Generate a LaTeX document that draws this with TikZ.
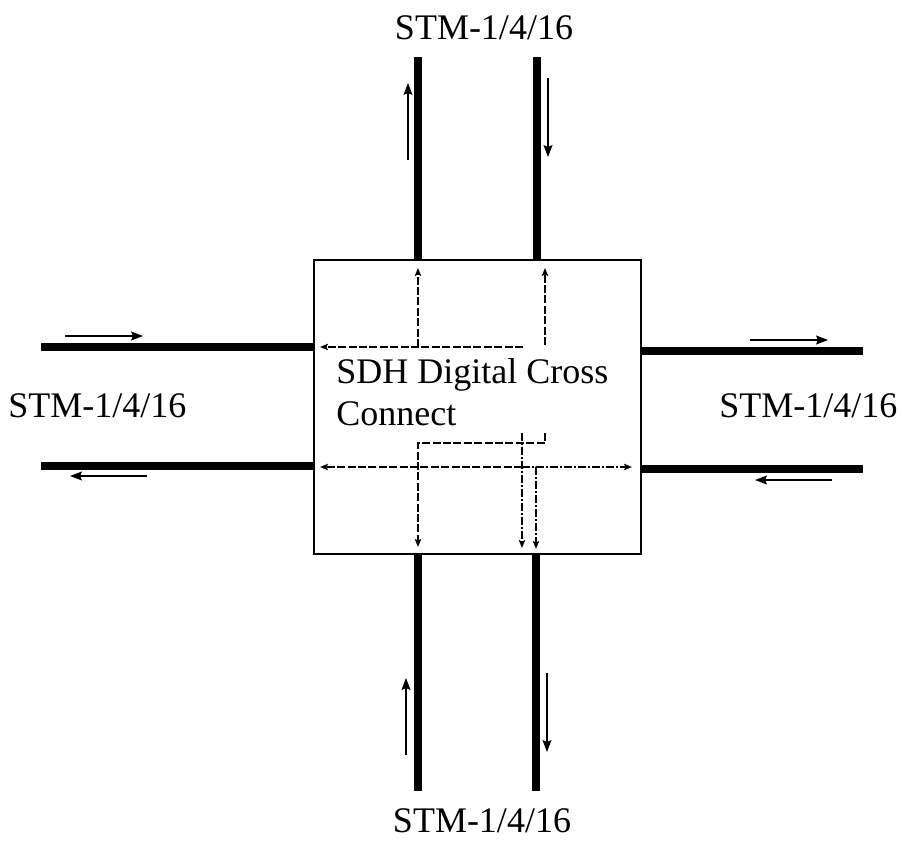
\documentclass[tikz,border=0pt]{standalone}
\usepackage{fontspec}
\setmainfont{Liberation Serif}
\usetikzlibrary{arrows.meta}

\begin{document}
\begin{tikzpicture}[x=0.5pt,y=-0.5pt,
    every node/.style={font=\fontsize{18}{21}\selectfont},
    trunk/.style={line width=3.75pt},
    flow/.style={line width=0.6pt,-{Stealth[length=6pt,width=4.5pt,inset=1pt]}},
    xc/.style={line width=0.7pt,dash pattern=on 4pt off 1.2pt,
               -{Stealth[length=4pt,width=3.2pt,inset=0.8pt]}},
    xcdot/.style={xc,dash pattern=on 4pt off 1.2pt on 0.6pt off 1.2pt},
    lbl/.style={inner sep=0pt,anchor=base}]
  \useasboundingbox (0,0) rectangle (902,841);

  % cross connect
  \node[draw,line width=1pt,outer sep=0pt,
        minimum width=163.5pt,minimum height=147pt] (dxc) at (477.5,407) {};
  \node[inner sep=0pt,anchor=base west,align=left]
    (title) at (336,425) {SDH Digital Cross\\Connect};

  % outer ends of the trunks
  \coordinate (tl) at (418,57);
  \coordinate (tr) at (537,57);
  \coordinate (bl) at (418,791);
  \coordinate (br) at (536,791);
  \coordinate (lt) at (41,347);
  \coordinate (lb) at (41,466);
  \coordinate (rt) at (863,351);
  \coordinate (rb) at (863,469);

  \draw[trunk] (tl) -- (tl |- dxc.north);
  \draw[trunk] (tr) -- (tr |- dxc.north);
  \draw[trunk] (bl) -- (bl |- dxc.south);
  \draw[trunk] (br) -- (br |- dxc.south);
  \draw[trunk] (lt) -- (lt -| dxc.west);
  \draw[trunk] (lb) -- (lb -| dxc.west);
  \draw[trunk] (rt) -- (rt -| dxc.east);
  \draw[trunk] (rb) -- (rb -| dxc.east);

  % direction of each trunk
  \draw[flow] ([shift={(-10,103)}]tl) -- ++(0,-77);
  \draw[flow] ([shift={(11,21)}]tr) -- ++(0,79);
  \draw[flow] ([shift={(-12,-36)}]bl) -- ++(0,-77);
  \draw[flow] ([shift={(11,-118)}]br) -- ++(0,79);
  \draw[flow] ([shift={(24,-11)}]lt) -- ++(78,0);
  \draw[flow] ([shift={(106,10)}]lb) -- ++(-77,0);
  \draw[flow] ([shift={(-113,-11)}]rt) -- ++(78,0);
  \draw[flow] ([shift={(-31,11)}]rb) -- ++(-77,0);

  % paths through the cross connect
  \coordinate (a1) at (523,347);
  \coordinate (b1) at (545,345);
  \coordinate (c1) at (545,433);
  \coordinate (d1) at (522,433);
  \coordinate (e1) at (522,467);
  \draw[xc,shorten >=3pt] (a1) -- (dxc.west |- a1);
  \draw[xc,shorten >=4pt] (tl |- a1) -- (tl |- dxc.north);
  \draw[xc,shorten >=4pt] (b1) -- (b1 |- dxc.north);
  \draw[xc,shorten >=3.5pt] (c1) -- ++(0,10) -| (bl |- dxc.south);
  \draw[xcdot,shorten >=3pt] (d1) -- (d1 |- dxc.south);
  \draw[xc,shorten >=3pt] (e1) -- (dxc.west |- e1);
  \draw[xcdot,shorten >=4.5pt] (e1) -- (dxc.east |- e1);
  \draw[xcdot,shorten >=2.5pt] (e1) -| (br |- dxc.south);

  % trunk labels
  \node[lbl] (stmtop) at (484,39) {STM-1/4/16};
  \node[lbl] (stmbot) at (482,832) {STM-1/4/16};
  \node[lbl,anchor=base west] (stmleft) at (8,417) {STM-1/4/16};
  \node[lbl,anchor=base west] (stmright) at (719,417) {STM-1/4/16};
\end{tikzpicture}
\end{document}
